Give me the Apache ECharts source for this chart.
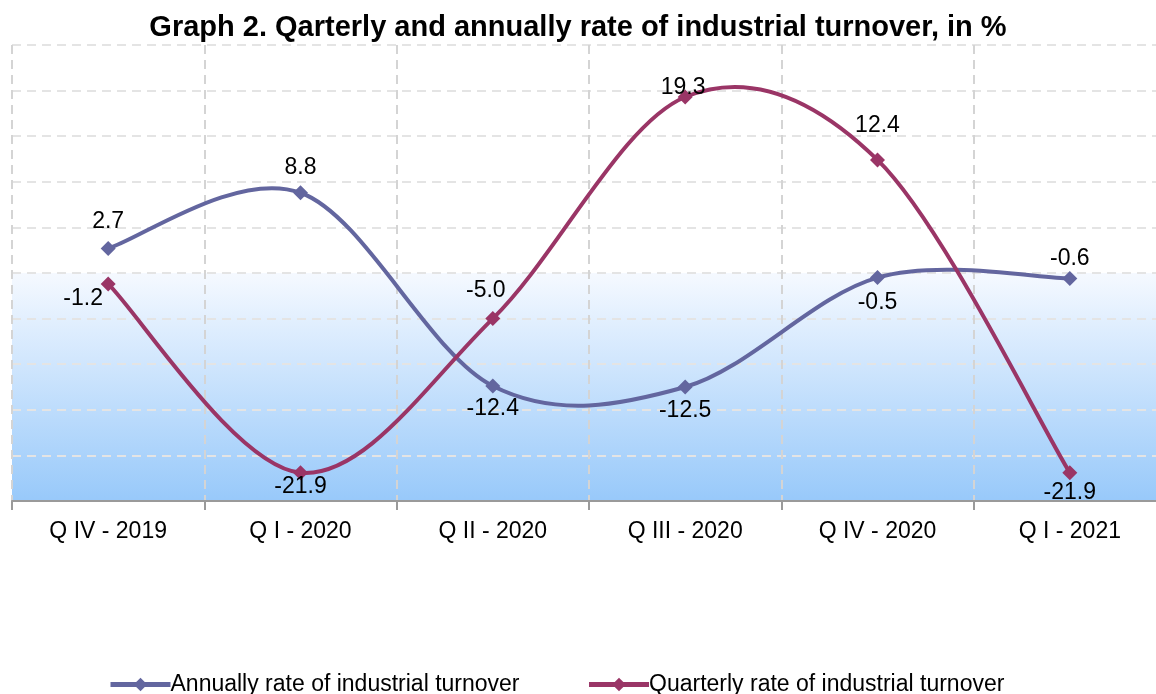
<!DOCTYPE html>
<html>
<head>
<meta charset="utf-8">
<script src="https://cdn.jsdelivr.net/npm/echarts@6/dist/echarts.min.js"></script>
<style>
  html, body { margin: 0; padding: 0; background: #fff; }
  #chart { width: 1156px; height: 694px; }
</style>
</head>
<body>
<div id="chart"></div>
<script>
  'use strict';

  // data
  var quarters = ['Q IV - 2019', 'Q I - 2020', 'Q II - 2020', 'Q III - 2020', 'Q IV - 2020', 'Q I - 2021'];
  var annualRate = [2.7, 8.8, -12.4, -12.5, -0.5, -0.6];
  var quarterlyRate = [-1.2, -21.9, -5.0, 19.3, 12.4, -21.9];

  // label offsets from each point, in px (style only)
  var annualLabelOffset = [[0, -27], [0, -25], [0, 23], [0, 24], [0, 25], [0, -20]];
  var quarterlyLabelOffset = [[-25, 15], [0, 14], [-7, -28], [-2, -9], [0, -34], [0, 20]];

  var font = 'Liberation Sans, Arial, sans-serif';
  var annualColor = '#63669f';
  var quarterlyColor = '#9a3566';

  function withLabels(values, offsets) {
    return values.map(function (v, i) {
      return { value: v, label: { position: 'inside', offset: offsets[i] } };
    });
  }

  // excel-like smoothed line: catmull-rom bezier segments through the points
  function curveSeries(values, color) {
    return {
      type: 'custom',
      silent: true,
      z: 2,
      data: values.map(function (v, i) { return [i, v]; }),
      renderItem: function (params, api) {
        var i = params.dataIndex;
        var n = values.length;
        if (i >= n - 1) return null;
        var pt = function (j) {
          j = Math.max(0, Math.min(n - 1, j));
          return api.coord([j, values[j]]);
        };
        var p0 = pt(i - 1), p1 = pt(i), p2 = pt(i + 1), p3 = pt(i + 2);
        return {
          type: 'bezierCurve',
          shape: {
            x1: p1[0], y1: p1[1], x2: p2[0], y2: p2[1],
            cpx1: p1[0] + (p2[0] - p0[0]) / 6, cpy1: p1[1] + (p2[1] - p0[1]) / 6,
            cpx2: p2[0] - (p3[0] - p1[0]) / 6, cpy2: p2[1] - (p3[1] - p1[1]) / 6
          },
          style: { stroke: color, lineWidth: 4, fill: null, lineCap: 'round' }
        };
      }
    };
  }

  function pointSeries(name, values, offsets, color) {
    return {
      name: name,
      type: 'line',
      z: 3,
      symbol: 'diamond',
      symbolSize: 15,
      itemStyle: { color: color },
      lineStyle: { color: color, width: 4, opacity: 0 },
      label: {
        show: true,
        fontSize: 23,
        color: '#000',
        fontFamily: font,
        formatter: function (p) { return p.value.toFixed(1); }
      },
      data: withLabels(values, offsets)
    };
  }

  var myChart = echarts.init(document.getElementById('chart'));

  var options = {
    animation: false,
    textStyle: { fontFamily: font },
    title: {
      text: 'Graph 2. Qarterly and annually rate of industrial turnover, in %',
      left: 'center',
      top: 8,
      textStyle: { fontFamily: font, fontSize: 29, fontWeight: 'bold', color: '#000' }
    },
    legend: {
      left: 103,
      top: 668,
      itemWidth: 60,
      itemHeight: 17,
      itemGap: 67,
      lineStyle: { opacity: 1, width: 5 },
      textStyle: { fontFamily: font, fontSize: 23, color: '#000', padding: [0, 0, 0, -5] },
      data: ['Annually rate of industrial turnover', 'Quarterly rate of industrial turnover']
    },
    grid: {
      left: 12,
      width: 1154,
      top: 45,
      bottom: 193,
      outerBoundsMode: 'none',
      show: true,
      borderWidth: 0,
      backgroundColor: {
        type: 'linear', x: 0, y: 0, x2: 0, y2: 1,
        colorStops: [
          { offset: 0, color: '#ffffff' },
          { offset: 0.5, color: '#ffffff' },
          { offset: 0.501, color: '#f5f9ff' },
          { offset: 1, color: '#98c9fa' }
        ]
      }
    },
    xAxis: {
      type: 'category',
      data: quarters,
      boundaryGap: true,
      axisLine: { onZero: false, lineStyle: { color: '#9a9a9a', width: 2 } },
      axisTick: { show: true, length: 9, lineStyle: { color: '#9a9a9a', width: 2 } },
      axisLabel: { fontSize: 23, color: '#000', margin: 19, fontFamily: font },
      splitLine: { show: true, lineStyle: { color: '#d4d4d4', type: [9, 6], width: 2 } }
    },
    yAxis: {
      type: 'value',
      min: -25,
      max: 25,
      interval: 5,
      axisLabel: { show: false },
      axisLine: { show: false },
      axisTick: { show: false },
      splitLine: { show: true, lineStyle: { color: '#e4e4e4', type: [9, 6], width: 2 } }
    },
    series: [
      curveSeries(annualRate, annualColor),
      curveSeries(quarterlyRate, quarterlyColor),
      pointSeries('Annually rate of industrial turnover', annualRate, annualLabelOffset, annualColor),
      pointSeries('Quarterly rate of industrial turnover', quarterlyRate, quarterlyLabelOffset, quarterlyColor)
    ]
  };

  myChart.setOption(options);
</script>
</body>
</html>
